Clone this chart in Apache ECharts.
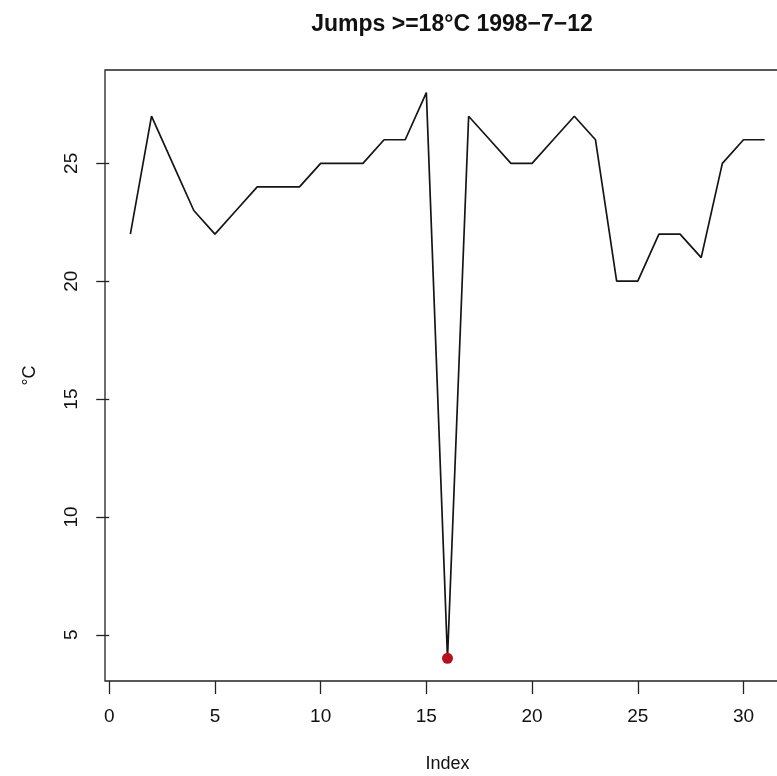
<!DOCTYPE html>
<html>
<head>
<meta charset="utf-8">
<script src="https://cdn.jsdelivr.net/npm/echarts@6/dist/echarts.min.js"></script>
<style>
html,body{margin:0;padding:0;background:#fff;}
#chart{width:777px;height:776px;}
</style>
</head>
<body>
<div id="chart"></div>
<script>
// ---- data ----
const titleText = "Jumps >=18\u00B0C 1998\u22127\u221212";
const xName = "Index";
const yName = "\u00B0C";
const indexValues = [1,2,3,4,5,6,7,8,9,10,11,12,13,14,15,16,17,18,19,20,21,22,23,24,25,26,27,28,29,30,31];
const tempValues  = [22,27,25,23,22,23,24,24,24,25,25,25,26,26,28,4,27,26,25,25,26,27,26,20,20,22,22,21,25,26,26];
const jumpIndices = [16];
const xTicks = [0,5,10,15,20,25,30];
const yTicks = [5,10,15,20,25];

const lineData = indexValues.map((x,i)=>[x,tempValues[i]]);
const jumpData = jumpIndices.map(x=>[x,tempValues[indexValues.indexOf(x)]]);

const font = '"Liberation Sans", Arial, Helvetica, sans-serif';
const chart = echarts.init(document.getElementById('chart'), null, {renderer:'canvas'});
chart.setOption({
  backgroundColor:'#fff',
  animation:false,
  title:{
    text:titleText, left:447, top:8, textAlign:'center',
    textStyle:{fontFamily:font, fontSize:23, fontWeight:'bold', color:'#111'}
  },
  grid:{left:105, right:-13, top:70, bottom:95, outerBoundsMode:'none', containLabel:false,
        show:true, borderColor:'#222', borderWidth:1.3, backgroundColor:'transparent'},
  xAxis:{
    type:'value', min:-0.2, max:32.2,
    name:xName, nameLocation:'middle', nameGap:74,
    nameTextStyle:{fontFamily:font, fontSize:18, color:'#111'},
    axisLine:{show:false},
    splitLine:{show:false},
    axisTick:{show:true, length:13, lineStyle:{color:'#222', width:1.3}, customValues:xTicks},
    axisLabel:{fontFamily:font, fontSize:19, color:'#111', margin:26, customValues:xTicks}
  },
  yAxis:{
    type:'value', min:3.04, max:28.96,
    name:yName, nameLocation:'middle', nameGap:66, nameRotate:90,
    nameTextStyle:{fontFamily:font, fontSize:18, color:'#111'},
    axisLine:{show:false},
    splitLine:{show:false},
    axisTick:{show:true, length:13, lineStyle:{color:'#222', width:1.3}, customValues:yTicks},
    axisLabel:{fontFamily:font, fontSize:19, color:'#111', margin:24, rotate:90, customValues:yTicks}
  },
  series:[
    {type:'line', data:lineData, showSymbol:false, symbol:'none',
     lineStyle:{color:'#151515', width:1.7}, z:2},
    {type:'scatter', data:jumpData, symbol:'circle', symbolSize:11,
     itemStyle:{color:'#b5121b', opacity:1}, z:3}
  ]
});
</script>
</body>
</html>
